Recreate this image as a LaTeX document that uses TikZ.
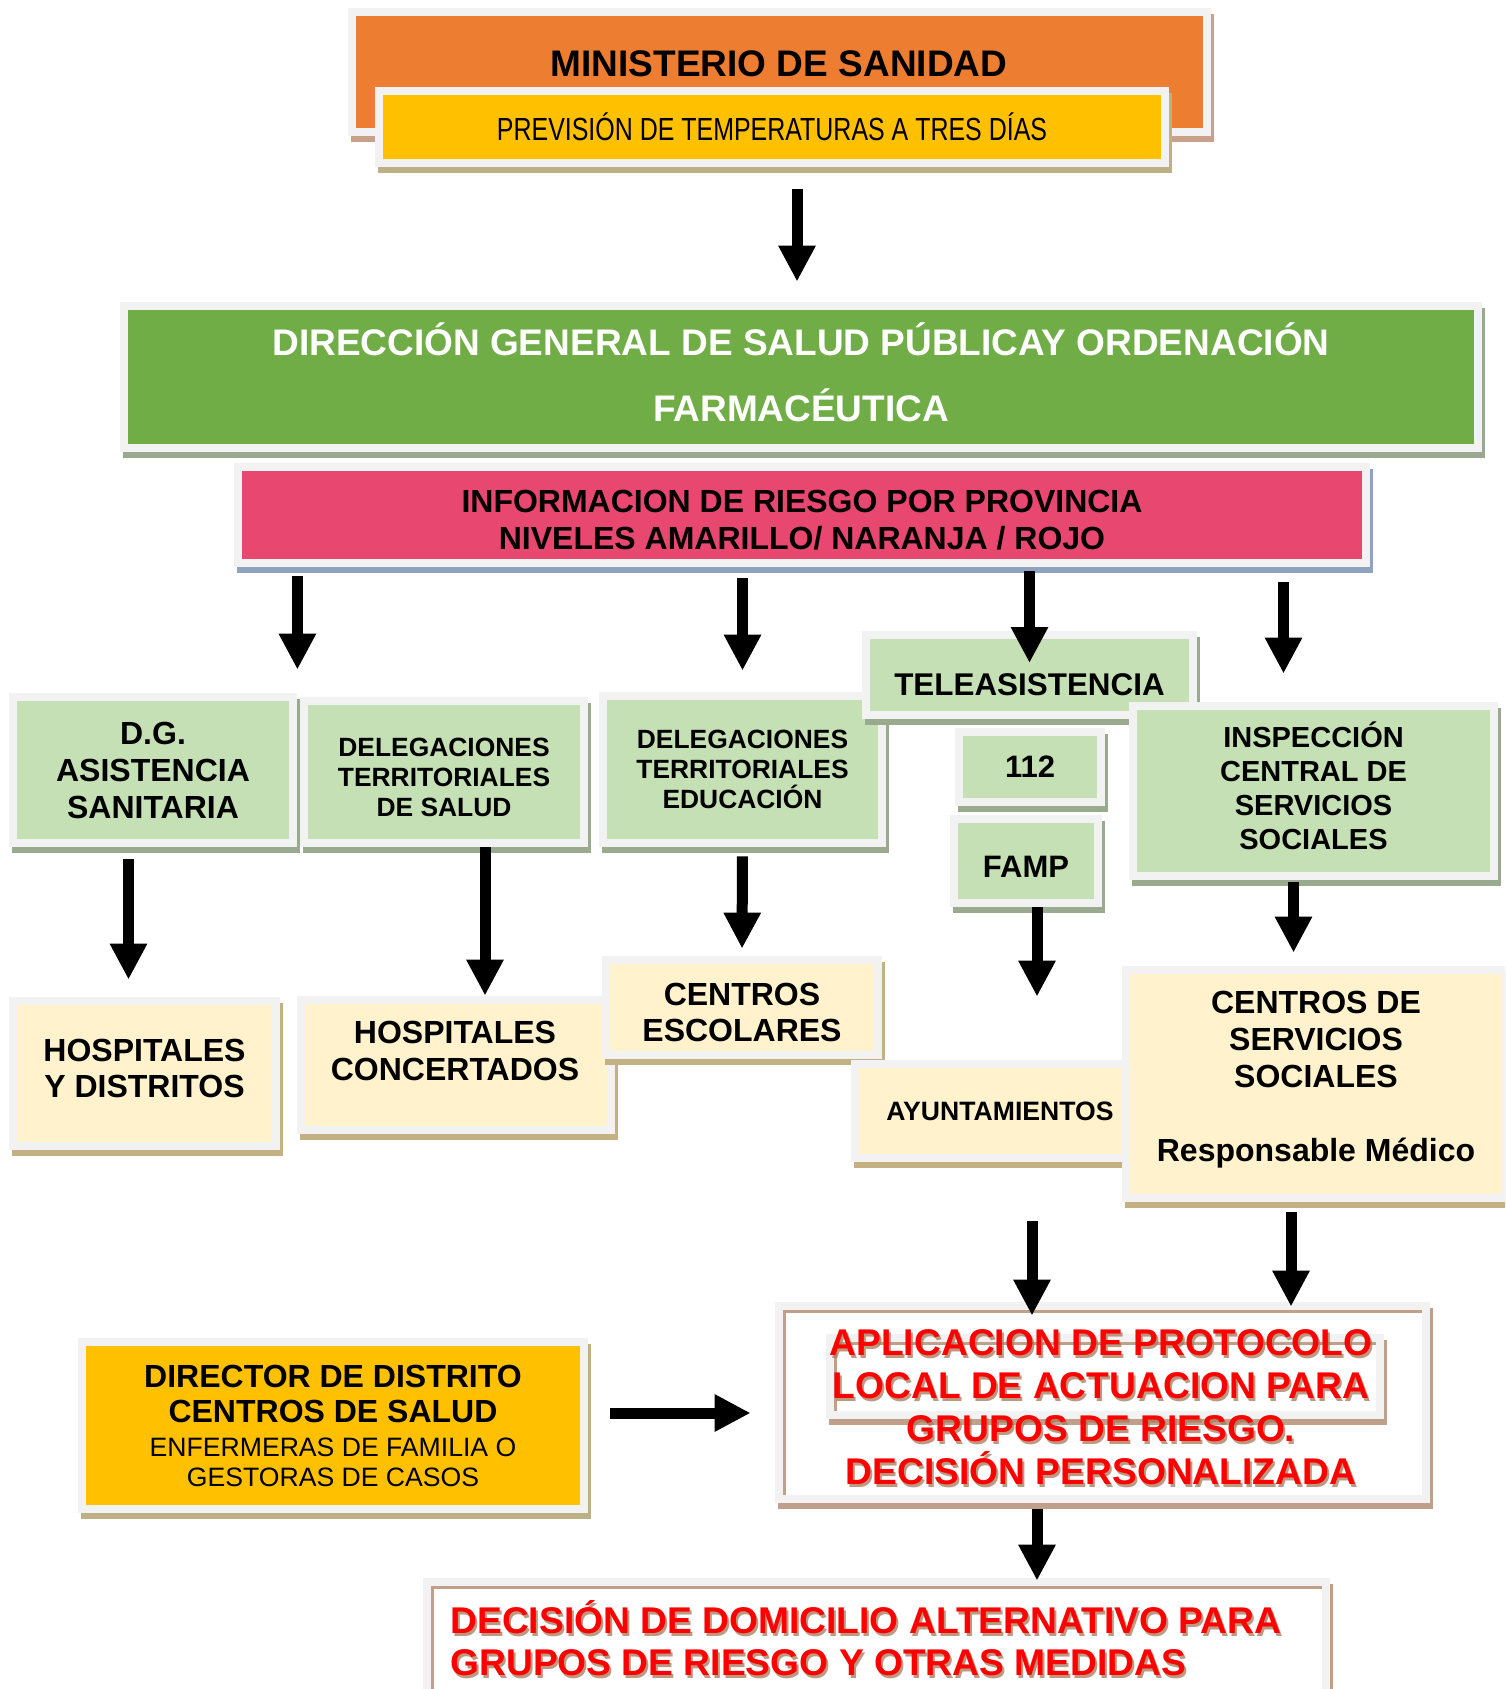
\documentclass[tikz,border=0pt]{standalone}
\usepackage{fontspec}
\setmainfont{Liberation Sans}
\newfontfamily\narrowf{Liberation Sans}[FakeStretch=0.78]
\usepackage{tikz}
\usetikzlibrary{arrows.meta,shadows}
\definecolor{frgray}{HTML}{F2F2F2}
\definecolor{orng}{HTML}{ED7D31}
\definecolor{orngsh}{HTML}{C9A08A}
\definecolor{gold}{HTML}{FFC000}
\definecolor{goldsh}{HTML}{BDB085}
\definecolor{grn}{HTML}{70AD47}
\definecolor{grnsh}{HTML}{9AA890}
\definecolor{rose}{HTML}{E8476F}
\definecolor{rosesh}{HTML}{8FA3BE}
\definecolor{lgrn}{HTML}{C5E0B4}
\definecolor{lgrnsh}{HTML}{9AAA8E}
\definecolor{lylw}{HTML}{FFF2CC}
\definecolor{lylwsh}{HTML}{C3B184}
\definecolor{wbrn}{HTML}{C0A08A}
\definecolor{redtx}{HTML}{FF0000}
\definecolor{redsh}{HTML}{A87858}
\newcommand{\fsz}[2]{\fontsize{#1}{#2}\selectfont}

\begin{document}
\begin{tikzpicture}[x=0.5pt,y=-0.5pt,
  bx/.style 2 args={rectangle,inner sep=0pt,align=center,fill=frgray,
    drop shadow={shadow xshift=1.5pt,shadow yshift=-3pt,fill=#2,opacity=1},
    path picture={\fill[#1] ([shift={(4pt,4pt)}]path picture bounding box.south west)
      rectangle ([shift={(-4pt,-4pt)}]path picture bounding box.north east);}},
  wbx/.style={rectangle,inner sep=0pt,fill=frgray,
    drop shadow={shadow xshift=1.5pt,shadow yshift=-3pt,fill=wbrn,opacity=1},
    path picture={\fill[wbrn] ([shift={(4pt,4pt)}]path picture bounding box.south west)
      rectangle ([shift={(-4pt,-4pt)}]path picture bounding box.north east);
      \fill[white] ([shift={(5.5pt,4pt)}]path picture bounding box.south west)
      rectangle ([shift={(-4pt,-5.5pt)}]path picture bounding box.north east);}},
  txt/.style={inner sep=0pt,align=center},
  redt/.style={inner sep=0pt,text=redtx,font=\bfseries\fsz{18.6}{21.5}},
  redsht/.style={inner sep=0pt,text=redsh,opacity=.75,font=\bfseries\fsz{18.6}{21.5}},
  arr/.style={line width=5.5pt,-{Triangle[width=17.5pt,length=18pt]}}]
  \useasboundingbox (0,0) rectangle (1505,1689);
  \clip (0,0) rectangle (1505,1689);

  % ministerio
  \node[bx={orng}{orngsh},minimum width=431.5pt,minimum height=64pt] (mins) at (779.5,72) {};
  \node[txt,font=\bfseries\fsz{18.5}{22}] (minst) at (779,64) {MINISTERIO DE SANIDAD};
  \node[bx={gold}{goldsh},minimum width=397pt,minimum height=40pt,font=\narrowf\fsz{16}{19}] (prev) at (772,127) {PREVISIÓN DE TEMPERATURAS A TRES DÍAS};

  \node[bx={grn}{grnsh},minimum width=681pt,minimum height=75pt] (dgsp) at (801,377) {};
  \node[txt,text=white,font=\bfseries\fsz{18.5}{33}] (dgspt) at (801,372)
    {DIRECCIÓN GENERAL DE SALUD PÚBLICAY ORDENACIÓN\\FARMACÉUTICA};
  \node[bx={rose}{rosesh},minimum width=568pt,minimum height=52pt] (pink) at (802,515) {};
  \node[txt,font=\bfseries\fsz{16}{18.5}] (pinkt) at (802,520)
    {INFORMACION DE RIESGO POR PROVINCIA\\NIVELES AMARILLO/ NARANJA / ROJO};

  % second row
  \node[bx={lgrn}{lgrnsh},minimum width=144pt,minimum height=77pt,font=\bfseries\fsz{16}{18.5}] (dgas) at (153,770) {D.G.\\ASISTENCIA\\SANITARIA};
  \node[bx={lgrn}{lgrnsh},minimum width=144pt,minimum height=75pt] (dts) at (444,772) {};
  \node[txt,font=\bfseries\fsz{13.2}{15}] (dtst) at (444,777) {DELEGACIONES\\TERRITORIALES\\DE SALUD};
  \node[bx={lgrn}{lgrnsh},minimum width=143.5pt,minimum height=77.5pt,font=\bfseries\fsz{13.2}{15}] (dte) at (742.5,769.5) {DELEGACIONES\\TERRITORIALES\\EDUCACIÓN};
  \node[bx={lgrn}{lgrnsh},minimum width=167.5pt,minimum height=44pt] (tele) at (1029.5,675) {};
  \node[txt,font=\bfseries\fsz{15.7}{18}] (telet) at (1029.5,685) {TELEASISTENCIA};
  \node[bx={lgrn}{lgrnsh},minimum width=184.5pt,minimum height=89pt] (insp) at (1313.5,791) {};
  \node[txt,font=\bfseries\fsz{14.5}{17}] (inspt) at (1313.5,786) {INSPECCIÓN\\CENTRAL DE\\SERVICIOS\\SOCIALES};
  \node[bx={lgrn}{lgrnsh},minimum width=75pt,minimum height=39pt,font=\bfseries\fsz{15.5}{18}] (n112) at (1030,767) {112};
  \node[bx={lgrn}{lgrnsh},minimum width=76pt,minimum height=46pt] (famp) at (1026,861) {};
  \node[txt,font=\bfseries\fsz{15.5}{18}] (fampt) at (1026,867) {FAMP};

  % third row
  \node[bx={lylw}{lylwsh},minimum width=135.5pt,minimum height=76.5pt] (hosp) at (144.5,1073.5) {};
  \node[txt,font=\bfseries\fsz{16}{18}] (hospt) at (144.5,1068) {HOSPITALES\\Y DISTRITOS};
  \node[bx={lylw}{lylwsh},minimum width=159pt,minimum height=69pt] (hcon) at (456,1065) {};
  \node[txt,font=\bfseries\fsz{16}{18.5}] (hcont) at (455,1050.5) {HOSPITALES\\CONCERTADOS};
  \node[bx={lylw}{lylwsh},minimum width=140pt,minimum height=51.5pt] (cesc) at (742,1007.5) {};
  \node[txt,font=\bfseries\fsz{16}{18}] (cesct) at (742,1012) {CENTROS\\ESCOLARES};
  \node[bx={lylw}{lylwsh},minimum width=149pt,minimum height=51pt,font=\bfseries\fsz{13.3}{15}] (ayun) at (1000,1111) {AYUNTAMIENTOS};
  \node[bx={lylw}{lylwsh},minimum width=194pt,minimum height=118pt] (css) at (1316,1084) {};
  \node[txt,font=\bfseries\fsz{16}{18.5}] (csst) at (1316,1080) {CENTROS DE\\SERVICIOS\\SOCIALES\\[18.5pt]Responsable Médico};

  % bottom
  \node[bx={gold}{goldsh},minimum width=255pt,minimum height=87.5pt,font=\fsz{13.3}{15}] (dir) at (333,1425.5)
    {\bfseries\fsz{16}{15}DIRECTOR DE DISTRITO\\[2.5pt]\bfseries\fsz{16}{15}CENTROS DE SALUD\\[2pt]ENFERMERAS DE FAMILIA O\\GESTORAS DE CASOS};
  \node[wbx,minimum width=327.5pt,minimum height=100.5pt] (apl) at (1102.5,1402.5) {};
  \node[wbx,minimum width=279pt,minimum height=42.5pt] (aplin) at (1105,1376.5) {};
  \node[redsht,align=center] (aplsh) at (1103,1410) {APLICACION DE PROTOCOLO\\LOCAL DE ACTUACION PARA\\GRUPOS DE RIESGO.\\DECISIÓN PERSONALIZADA};
  \node[redt,align=center] (aplt) at (1101,1407) {APLICACION DE PROTOCOLO\\LOCAL DE ACTUACION PARA\\GRUPOS DE RIESGO.\\DECISIÓN PERSONALIZADA};
  \node[wbx,minimum width=453.5pt,minimum height=61pt] (deci) at (876.5,1639) {};
  \node[redsht,align=left,anchor=west,font=\bfseries\fsz{18.6}{21}] (decish) at (452,1641) {DECISIÓN DE DOMICILIO ALTERNATIVO PARA\\GRUPOS DE RIESGO Y OTRAS MEDIDAS};
  \node[redt,align=left,anchor=west,font=\bfseries\fsz{18.6}{21}] (decit) at (450,1638) {DECISIÓN DE DOMICILIO ALTERNATIVO PARA\\GRUPOS DE RIESGO Y OTRAS MEDIDAS};

  % arrows
  \coordinate (a4e) at ([xshift=-15pt,yshift=14pt]insp.north);
  \coordinate (b1e) at ([xshift=-8pt,yshift=8.5pt]hosp.north);
  \coordinate (b2e) at ([xshift=14.5pt]hcon.north);
  \coordinate (b4s) at ([xshift=5.5pt]famp.south);
  \coordinate (b5s) at ([xshift=-10pt]insp.south);
  \coordinate (c1s) at ([xshift=16pt]ayun.south);
  \coordinate (c2s) at ([xshift=-12.5pt]css.south);
  \coordinate (d1s) at ([yshift=6.25pt]dir.east);
  \coordinate (e1s) at ([xshift=-32.75pt]apl.south);
  \draw[arr,shorten <=11pt,shorten >=10pt] ([xshift=-2pt]prev.south -| dgsp.north) -- ([xshift=-2pt]dgsp.north);
  \draw[arr,shorten <=4.5pt,shorten >=11.5pt] (pink.south -| dgas.north east) -- (dgas.north east);
  \draw[arr,shorten <=5.5pt,shorten >=10.5pt] (pink.south -| dte.north) -- (dte.north);
  \draw[arr,shorten <=2pt,shorten >=6pt] (pink.south -| tele.center) -- (tele.center);
  \draw[arr,shorten <=7.5pt] (pink.south -| a4e) -- (a4e);
  \draw[arr,shorten <=6pt] (dgas.south -| b1e) -- (b1e);
  \draw[arr] (dts.south -| b2e) -- (b2e);
  \draw[arr,shorten <=4.5pt,shorten >=3.5pt] (dte.south) -- (cesc.north);
  \draw[arr,shorten >=31.5pt] (b4s) -- (b4s |- ayun.north);
  \draw[arr,shorten <=1pt,shorten >=6.5pt] (b5s) -- (b5s |- css.north);
  \draw[arr,shorten <=29.5pt,shorten >=-7pt] (c1s) -- (c1s |- apl.north);
  \draw[arr,shorten <=5pt,shorten >=-2.5pt] (c2s) -- (c2s |- apl.north);
  \draw[arr,shorten <=11pt,shorten >=12pt] (d1s) -- (d1s -| apl.west);
  \draw[arr,shorten <=3pt,shorten >=-1.5pt] (e1s) -- (e1s |- deci.north);
\end{tikzpicture}
\end{document}
